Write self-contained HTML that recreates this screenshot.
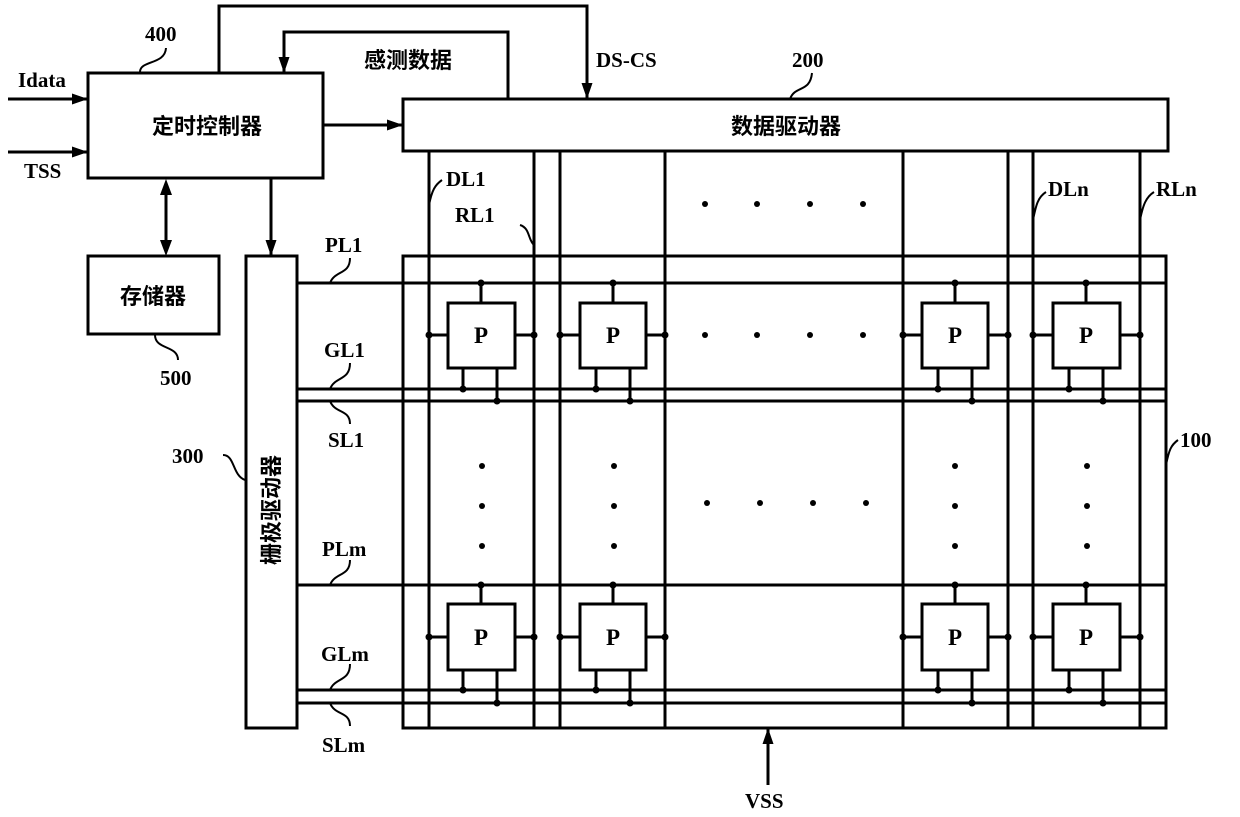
<!DOCTYPE html>
<html><head><meta charset="utf-8"><style>
html,body{margin:0;padding:0;background:#fff;}
svg{display:block;}
text{font-family:"Liberation Serif","Noto Serif CJK SC",serif;font-weight:bold;fill:#000;}
.cn{font-family:"Liberation Sans","Noto Sans CJK SC",sans-serif;font-weight:bold;}
</style></head><body>
<svg width="1240" height="817" viewBox="0 0 1240 817" xmlns="http://www.w3.org/2000/svg">
<defs>
<marker id="a" markerWidth="16" markerHeight="12" refX="15" refY="6" orient="auto" markerUnits="userSpaceOnUse" viewBox="0 0 16 12"><path d="M0,0.5 L16,6 L0,11.5 z" fill="#000"/></marker>
</defs>
<g stroke="#000" stroke-width="3" fill="none">
<rect x="88" y="73" width="235" height="105"/>
<rect x="88" y="256" width="131" height="78"/>
<rect x="246" y="256" width="51" height="472"/>
<rect x="403" y="99" width="765" height="52"/>
<rect x="403" y="256" width="763" height="472"/>
<line x1="8" y1="99" x2="87" y2="99" marker-end="url(#a)"/>
<line x1="8" y1="152" x2="87" y2="152" marker-end="url(#a)"/>
<polyline points="219,73 219,6 587,6 587,98" marker-end="url(#a)"/>
<polyline points="508,99 508,32 284,32 284,72" marker-end="url(#a)"/>
<line x1="323" y1="125" x2="402" y2="125" marker-end="url(#a)"/>
<line x1="271" y1="178" x2="271" y2="255" marker-end="url(#a)"/>
<line x1="166" y1="192" x2="166" y2="242"/>
<line x1="768" y1="785" x2="768" y2="729" marker-end="url(#a)"/>
<line x1="429" y1="151" x2="429" y2="728"/>
<line x1="534" y1="151" x2="534" y2="728"/>
<line x1="560" y1="151" x2="560" y2="728"/>
<line x1="665" y1="151" x2="665" y2="728"/>
<line x1="903" y1="151" x2="903" y2="728"/>
<line x1="1008" y1="151" x2="1008" y2="728"/>
<line x1="1033" y1="151" x2="1033" y2="728"/>
<line x1="1140" y1="151" x2="1140" y2="728"/>
<line x1="297" y1="283" x2="1166" y2="283"/>
<line x1="297" y1="389" x2="1166" y2="389"/>
<line x1="297" y1="401" x2="1166" y2="401"/>
<line x1="297" y1="585" x2="1166" y2="585"/>
<line x1="297" y1="690" x2="1166" y2="690"/>
<line x1="297" y1="703" x2="1166" y2="703"/>
</g>
<path d="M166,179 L160,195 L172,195 z" fill="#000"/>
<path d="M166,256 L160,240 L172,240 z" fill="#000"/>

<g stroke="#000" stroke-width="3" fill="none">
<rect x="448" y="303" width="67" height="65"/><path d="M481,283 V303 M429,335 H448 M515,335 H534 M463,368 V389 M497,368 V401"/>
<rect x="580" y="303" width="66" height="65"/><path d="M613,283 V303 M560,335 H580 M646,335 H665 M596,368 V389 M630,368 V401"/>
<rect x="922" y="303" width="66" height="65"/><path d="M955,283 V303 M903,335 H922 M988,335 H1008 M938,368 V389 M972,368 V401"/>
<rect x="1053" y="303" width="67" height="65"/><path d="M1086,283 V303 M1033,335 H1053 M1120,335 H1140 M1069,368 V389 M1103,368 V401"/>
<rect x="448" y="604" width="67" height="66"/><path d="M481,585 V604 M429,637 H448 M515,637 H534 M463,670 V690 M497,670 V703"/>
<rect x="580" y="604" width="66" height="66"/><path d="M613,585 V604 M560,637 H580 M646,637 H665 M596,670 V690 M630,670 V703"/>
<rect x="922" y="604" width="66" height="66"/><path d="M955,585 V604 M903,637 H922 M988,637 H1008 M938,670 V690 M972,670 V703"/>
<rect x="1053" y="604" width="67" height="66"/><path d="M1086,585 V604 M1033,637 H1053 M1120,637 H1140 M1069,670 V690 M1103,670 V703"/>
</g>
<g fill="#000">
<circle cx="481" cy="283" r="3.5"/><circle cx="429" cy="335" r="3.5"/><circle cx="534" cy="335" r="3.5"/><circle cx="463" cy="389" r="3.5"/><circle cx="497" cy="401" r="3.5"/>
<circle cx="613" cy="283" r="3.5"/><circle cx="560" cy="335" r="3.5"/><circle cx="665" cy="335" r="3.5"/><circle cx="596" cy="389" r="3.5"/><circle cx="630" cy="401" r="3.5"/>
<circle cx="955" cy="283" r="3.5"/><circle cx="903" cy="335" r="3.5"/><circle cx="1008" cy="335" r="3.5"/><circle cx="938" cy="389" r="3.5"/><circle cx="972" cy="401" r="3.5"/>
<circle cx="1086" cy="283" r="3.5"/><circle cx="1033" cy="335" r="3.5"/><circle cx="1140" cy="335" r="3.5"/><circle cx="1069" cy="389" r="3.5"/><circle cx="1103" cy="401" r="3.5"/>
<circle cx="481" cy="585" r="3.5"/><circle cx="429" cy="637" r="3.5"/><circle cx="534" cy="637" r="3.5"/><circle cx="463" cy="690" r="3.5"/><circle cx="497" cy="703" r="3.5"/>
<circle cx="613" cy="585" r="3.5"/><circle cx="560" cy="637" r="3.5"/><circle cx="665" cy="637" r="3.5"/><circle cx="596" cy="690" r="3.5"/><circle cx="630" cy="703" r="3.5"/>
<circle cx="955" cy="585" r="3.5"/><circle cx="903" cy="637" r="3.5"/><circle cx="1008" cy="637" r="3.5"/><circle cx="938" cy="690" r="3.5"/><circle cx="972" cy="703" r="3.5"/>
<circle cx="1086" cy="585" r="3.5"/><circle cx="1033" cy="637" r="3.5"/><circle cx="1140" cy="637" r="3.5"/><circle cx="1069" cy="690" r="3.5"/><circle cx="1103" cy="703" r="3.5"/>
<circle cx="705" cy="204" r="3"/><circle cx="757" cy="204" r="3"/><circle cx="810" cy="204" r="3"/><circle cx="863" cy="204" r="3"/>
<circle cx="705" cy="335" r="3"/><circle cx="757" cy="335" r="3"/><circle cx="810" cy="335" r="3"/><circle cx="863" cy="335" r="3"/>
<circle cx="707" cy="503" r="3"/><circle cx="760" cy="503" r="3"/><circle cx="813" cy="503" r="3"/><circle cx="866" cy="503" r="3"/>
<circle cx="482" cy="466" r="3"/><circle cx="482" cy="506" r="3"/><circle cx="482" cy="546" r="3"/>
<circle cx="614" cy="466" r="3"/><circle cx="614" cy="506" r="3"/><circle cx="614" cy="546" r="3"/>
<circle cx="955" cy="466" r="3"/><circle cx="955" cy="506" r="3"/><circle cx="955" cy="546" r="3"/>
<circle cx="1087" cy="466" r="3"/><circle cx="1087" cy="506" r="3"/><circle cx="1087" cy="546" r="3"/>
</g>
<g stroke="#000" stroke-width="2" fill="none">
<path d="M140,72 C140,60 165,65 166,48"/>
<path d="M155,335 C155,350 178,345 178,360"/>
<path d="M429,205 C432,190 435,185 442,180"/>
<path d="M520,225 C530,228 528,240 534,245"/>
<path d="M1033,220 C1036,205 1038,197 1046,192"/>
<path d="M1140,220 C1143,205 1146,197 1154,192"/>
<path d="M1166,465 C1169,450 1171,445 1178,440"/>
<path d="M223,455 C235,455 232,475 245,480"/>
<path d="M330,283 C335,270 350,275 350,258"/>
<path d="M330,389 C335,376 350,381 350,363"/>
<path d="M330,401 C335,414 350,409 350,424"/>
<path d="M330,585 C335,572 350,577 350,560"/>
<path d="M330,690 C335,677 350,682 350,664"/>
<path d="M330,703 C335,716 350,711 350,726"/>
<path d="M790,99 C795,85 810,93 812,73"/>
</g>
<g font-size="21">
<text x="145" y="41">400</text>
<text x="18" y="87">Idata</text>
<text x="24" y="178">TSS</text>
<text x="160" y="385">500</text>
<text x="172" y="463">300</text>
<text x="1180" y="447">100</text>
<text x="792" y="67">200</text>
<text x="596" y="67">DS-CS</text>
<text x="745" y="808">VSS</text>
<text x="446" y="186">DL1</text>
<text x="455" y="222">RL1</text>
<text x="1048" y="196">DLn</text>
<text x="1156" y="196">RLn</text>
<text x="325" y="252">PL1</text>
<text x="324" y="357">GL1</text>
<text x="328" y="447">SL1</text>
<text x="322" y="556">PLm</text>
<text x="321" y="661">GLm</text>
<text x="322" y="752">SLm</text>
</g>
<g font-size="23" text-anchor="middle">
<text x="481" y="343">P</text><text x="613" y="343">P</text><text x="955" y="343">P</text><text x="1086" y="343">P</text>
<text x="481" y="645">P</text><text x="613" y="645">P</text><text x="955" y="645">P</text><text x="1086" y="645">P</text>
</g>
<text class="cn" x="207" y="134" font-size="22" text-anchor="middle">定时控制器</text>
<text class="cn" x="153" y="304" font-size="22" text-anchor="middle">存储器</text>
<text class="cn" x="408" y="68" font-size="22" text-anchor="middle">感测数据</text>
<text class="cn" x="786" y="134" font-size="22" text-anchor="middle">数据驱动器</text>
<text class="cn" x="0" y="0" font-size="22" text-anchor="middle" transform="translate(279,510) rotate(-90)">栅极驱动器</text>
</svg>
</body></html>
